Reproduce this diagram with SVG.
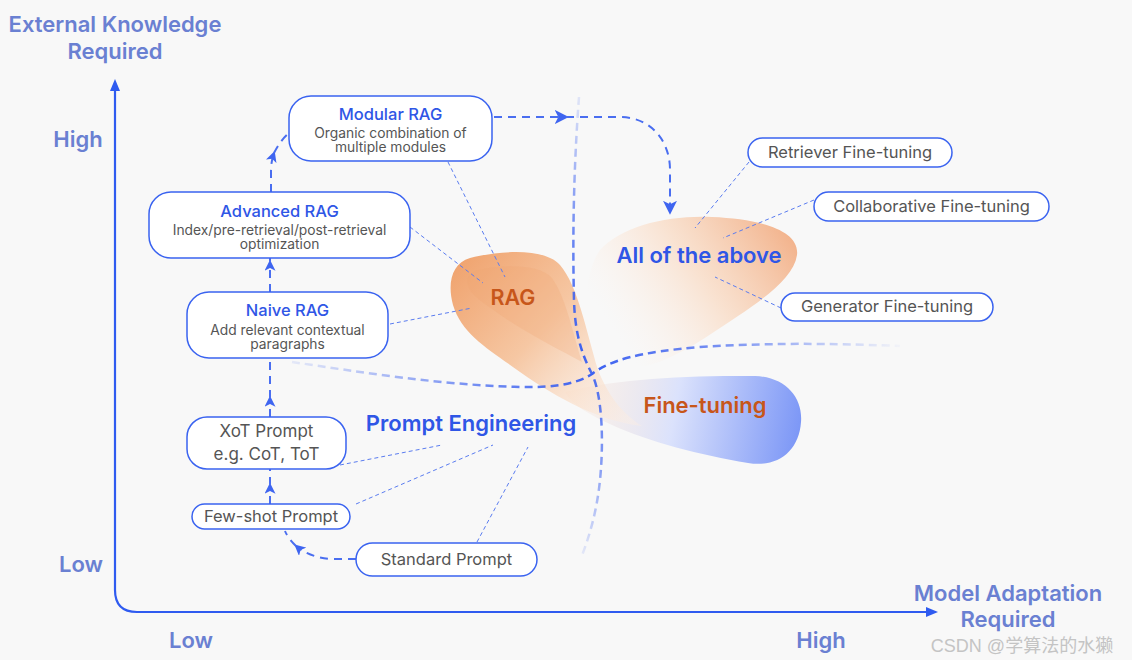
<svg xmlns="http://www.w3.org/2000/svg" width="1132" height="660" viewBox="0 0 1132 660">
<style>
.ax{font-family:Inter,"Liberation Sans",sans-serif;font-weight:600;font-size:22px;fill:#6a80d2;text-anchor:middle}
.box{fill:#fff;stroke:#3a63f0;stroke-width:1.5}
.ttl{font-family:Inter,"Liberation Sans",sans-serif;font-weight:500;font-size:16.5px;fill:#2f56e6;text-anchor:middle}
.sub{font-family:Inter,"Liberation Sans",sans-serif;font-size:13.8px;fill:#555;text-anchor:middle}
.pill{font-family:Inter,"Liberation Sans",sans-serif;font-size:16.5px;fill:#555;text-anchor:middle}
.big{font-family:Inter,"Liberation Sans",sans-serif;font-weight:600;font-size:22px;text-anchor:middle}
.con{fill:none;stroke:#4a6ef0;stroke-width:2;stroke-dasharray:8 6}
.lead{fill:none;stroke:#5a7cf0;stroke-width:1;stroke-dasharray:4 3}
</style>
<defs>
<marker id="arr" viewBox="0 0 10 10" refX="8" refY="5" markerWidth="11" markerHeight="11" markerUnits="userSpaceOnUse" orient="auto">
<path d="M0,0 L10,5 L0,10 L2.5,5 Z" fill="#3f65f0"/>
</marker>
<marker id="arrL" viewBox="0 0 10 10" refX="8" refY="5" markerWidth="14" markerHeight="14" markerUnits="userSpaceOnUse" orient="auto">
<path d="M0,0 L10,5 L0,10 L2.5,5 Z" fill="#3f65f0"/>
</marker>
<linearGradient id="gRag" gradientUnits="userSpaceOnUse" x1="460" y1="265" x2="630" y2="420">
<stop offset="0" stop-color="#f0a571"/>
<stop offset="0.45" stop-color="#f6c7a3"/>
<stop offset="1" stop-color="#fdeee2" stop-opacity="0.4"/>
</linearGradient>
<linearGradient id="gFt" gradientUnits="userSpaceOnUse" x1="570" y1="400" x2="800" y2="440">
<stop offset="0" stop-color="#fbe6d6" stop-opacity="0.3"/>
<stop offset="0.45" stop-color="#dbe2fc"/>
<stop offset="1" stop-color="#7b96f6"/>
</linearGradient>
<linearGradient id="gAll" gradientUnits="userSpaceOnUse" x1="790" y1="225" x2="620" y2="340">
<stop offset="0" stop-color="#f2b088"/>
<stop offset="0.5" stop-color="#f9dcc6" stop-opacity="0.8"/>
<stop offset="1" stop-color="#fdf1e8" stop-opacity="0"/>
</linearGradient>
<linearGradient id="gV" gradientUnits="userSpaceOnUse" x1="0" y1="95" x2="0" y2="560">
<stop offset="0" stop-color="#3d62f0" stop-opacity="0.12"/>
<stop offset="0.3" stop-color="#3d62f0" stop-opacity="0.75"/>
<stop offset="0.55" stop-color="#3d62f0" stop-opacity="1"/>
<stop offset="0.8" stop-color="#3d62f0" stop-opacity="0.6"/>
<stop offset="1" stop-color="#3d62f0" stop-opacity="0.08"/>
</linearGradient>
<linearGradient id="gH" gradientUnits="userSpaceOnUse" x1="290" y1="0" x2="900" y2="0">
<stop offset="0" stop-color="#3d62f0" stop-opacity="0.1"/>
<stop offset="0.3" stop-color="#3d62f0" stop-opacity="0.7"/>
<stop offset="0.5" stop-color="#3d62f0" stop-opacity="1"/>
<stop offset="0.7" stop-color="#3d62f0" stop-opacity="0.7"/>
<stop offset="1" stop-color="#3d62f0" stop-opacity="0.03"/>
</linearGradient>
</defs>
<rect width="1132" height="660" fill="#f8f8f8"/>

<!-- blobs -->
<g id="blobs">
<path d="M600,250 C622,226 668,215 712,217 C760,219 800,230 797,255 C794,276 768,296 738,316 C708,336 680,356 650,365 C622,372 600,360 590,338 C582,310 586,270 600,250 Z" fill="url(#gAll)"/>
<path d="M565,392 C610,380 680,375 755,376 C786,377 803,398 801,422 C799,451 778,468 748,463 C700,455 650,442 612,425 C590,415 572,405 565,392 Z" fill="url(#gFt)"/>
<path d="M470,258 C502,250 545,248 560,265 C578,286 586,330 598,370 C610,400 625,415 642,426 C600,421 560,400 520,372 C490,350 462,335 453,305 C447,283 452,263 470,258 Z" fill="url(#gRag)"/>
<path d="M478,270 C505,264 540,264 552,278 C566,298 572,330 582,362 C560,350 530,335 505,318 C485,304 470,295 468,285 C466,277 470,272 478,270 Z" fill="#f0a571" opacity="0.25"/>
</g>

<!-- axes -->
<g id="axes">
<path d="M115,88 L115,590 Q115,612 137,612 L928,612" fill="none" stroke="#2f5bf0" stroke-width="2.2"/>
<path d="M110,91 L115,79 L120,91 Z" fill="#2f5bf0"/>
<path d="M926,607 L938,612 L926,617 Z" fill="#2f5bf0"/>
<text class="ax" x="115" y="32">External Knowledge</text>
<text class="ax" x="115" y="59">Required</text>
<text class="ax" x="78" y="147">High</text>
<text class="ax" x="81" y="572">Low</text>
<text class="ax" x="191" y="648">Low</text>
<text class="ax" x="821" y="648">High</text>
<text class="ax" x="1008" y="601">Model Adaptation</text>
<text class="ax" x="1008" y="627">Required</text>
</g>

<!-- dividers and connectors -->
<g id="connectors">
<path d="M579,97 C575,150 572,220 574,300 C575,340 585,360 592,374 C602,395 604,440 600,480 C597,510 590,535 581,558" fill="none" stroke="url(#gV)" stroke-width="2.5" stroke-dasharray="8 5"/>
<path d="M292,362 C360,372 440,385 520,387 C560,388 580,382 592,374 C610,360 640,352 700,347 C780,342 850,344 900,346" fill="none" stroke="url(#gH)" stroke-width="2.5" stroke-dasharray="8 5"/>

<path class="con" d="M356,559 L334,559 C318,559 304,553 296,546" marker-end="url(#arr)"/>
<path class="con" d="M296,546 C291,541 287,536 285,531"/>
<path class="con" d="M270,504 L270,485" marker-end="url(#arr)"/>
<path class="con" d="M270,485 L270,469"/>
<path class="con" d="M270,417 L270,398" marker-end="url(#arr)"/>
<path class="con" d="M270,398 L270,358"/>
<path class="con" d="M270,292 L270,262" marker-end="url(#arr)"/>
<path class="con" d="M270,262 L270,258"/>
<path class="con" d="M271,192 L271,172 C271,164 272,159 274,153" marker-end="url(#arr)"/>
<path class="con" d="M274,153 C278,145 283,138 289,133"/>
<path class="con" d="M494,117 L566,117" marker-end="url(#arrL)"/>
<path class="con" d="M566,117 L620,117 C650,117 670,140 670,170 L670,212" marker-end="url(#arrL)"/>

<path class="lead" d="M448,162 L505,277"/>
<path class="lead" d="M410,227 L483,283"/>
<path class="lead" d="M390,324 L472,308"/>
<path class="lead" d="M340,465 L442,445"/>
<path class="lead" d="M356,504 L493,445"/>
<path class="lead" d="M477,542 L528,447"/>
<path class="lead" d="M749,162 L695,228"/>
<path class="lead" d="M814,200 L723,238"/>
<path class="lead" d="M781,308 L715,277"/>
</g>

<!-- nodes -->
<g id="modular-rag">
<rect class="box" x="289" y="96" width="203" height="65" rx="22"/>
<text class="ttl" x="390.5" y="120">Modular RAG</text>
<text class="sub" x="390.5" y="138">Organic combination of</text>
<text class="sub" x="390.5" y="152">multiple modules</text>
</g>
<g id="advanced-rag">
<rect class="box" x="149" y="192" width="261" height="66" rx="22"/>
<text class="ttl" x="279.5" y="217">Advanced RAG</text>
<text class="sub" x="279.5" y="235">Index/pre-retrieval/post-retrieval</text>
<text class="sub" x="279.5" y="249">optimization</text>
</g>
<g id="naive-rag">
<rect class="box" x="187" y="292" width="201" height="66" rx="22"/>
<text class="ttl" x="287.5" y="316">Naive RAG</text>
<text class="sub" x="287.5" y="335">Add relevant contextual</text>
<text class="sub" x="287.5" y="349">paragraphs</text>
</g>
<g id="xot-prompt">
<rect class="box" x="187" y="417" width="159" height="52" rx="20"/>
<text class="pill" x="266.5" y="437" style="font-size:17px">XoT Prompt</text>
<text class="pill" x="266.5" y="460" style="font-size:17px">e.g. CoT, ToT</text>
</g>
<g id="few-shot-prompt">
<rect class="box" x="192" y="504" width="158" height="25" rx="12.5"/>
<text class="pill" x="271" y="522">Few-shot Prompt</text>
</g>
<g id="standard-prompt">
<rect class="box" x="356" y="543" width="181" height="33" rx="16.5"/>
<text class="pill" x="446.5" y="565">Standard Prompt</text>
</g>
<g id="retriever-ft">
<rect class="box" x="748" y="138" width="204" height="29" rx="14.5"/>
<text class="pill" x="850" y="158">Retriever Fine-tuning</text>
</g>
<g id="collaborative-ft">
<rect class="box" x="814" y="192" width="235" height="29" rx="14.5"/>
<text class="pill" x="931.5" y="212">Collaborative Fine-tuning</text>
</g>
<g id="generator-ft">
<rect class="box" x="781" y="293" width="212" height="28" rx="14"/>
<text class="pill" x="887" y="312">Generator Fine-tuning</text>
</g>

<g id="labels">
<text class="big" x="471" y="431" fill="#2f56e6">Prompt Engineering</text>
<text class="big" x="513" y="305" fill="#c7561a" style="font-size:21.5px">RAG</text>
<text class="big" x="699" y="263" fill="#2f56e6">All of the above</text>
<text class="big" x="705" y="413" fill="#c7561a">Fine-tuning</text>
</g>

<text x="1022" y="652" font-family="'Liberation Sans','Noto Sans CJK SC',sans-serif" font-size="18" fill="#c4c4c4" text-anchor="middle">CSDN @学算法的水獭</text>
</svg>
